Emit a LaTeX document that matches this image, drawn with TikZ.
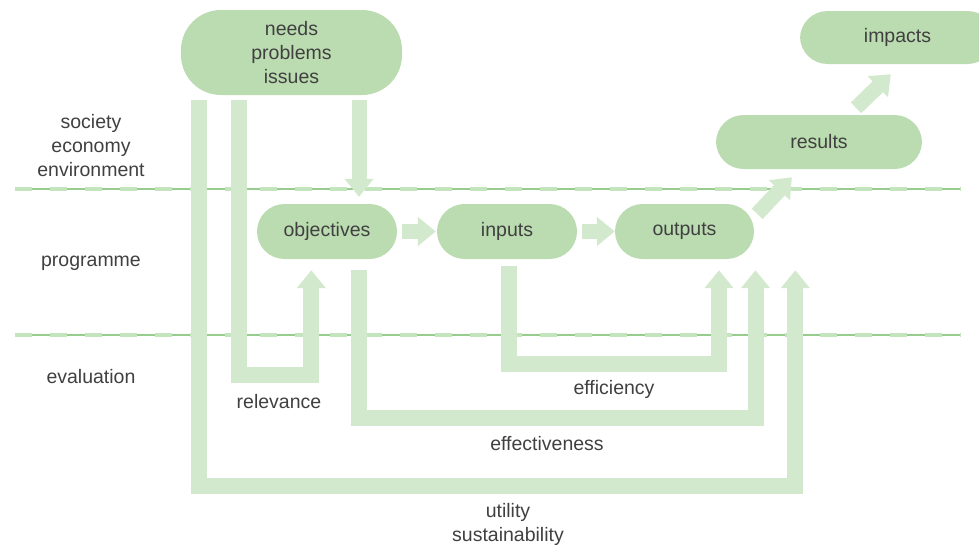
\documentclass[tikz,border=0pt]{standalone}
\usepackage{fontspec}
\setmainfont{Liberation Sans}
\usetikzlibrary{arrows.meta,calc}
\definecolor{boxgreen}{RGB}{187,220,176}
\definecolor{pipegreen}{RGB}{211,233,205}
\definecolor{linegreen}{RGB}{150,205,140}
\definecolor{dashgreen}{RGB}{195,228,188}
\definecolor{txtgray}{RGB}{64,64,64}

\begin{document}
\begin{tikzpicture}[x=1pt, y=-1pt,
  every node/.style={font=\fontsize{19.5}{24}\selectfont, text=txtgray},
  box/.style={fill=boxgreen, rounded corners=27.5pt, minimum height=55pt, inner sep=0pt},
  fat/.style={draw=pipegreen, line width=15pt, -{Triangle[width=28pt,length=18pt]}},
  pipe/.style={draw=pipegreen, line width=16pt, -{Triangle[width=28pt,length=18pt]}},
  sepline/.style={draw=linegreen, line width=1.2pt},
  sepdash/.style={draw=dashgreen, line width=3.5pt, dash pattern=on 17pt off 18pt}]
\useasboundingbox (0,0) rectangle (979,546);

\draw[sepline] (15,189) -- (961,189);
\draw[sepdash] (15,189) -- (961,189);
\draw[sepline] (15,335) -- (961,335);
\draw[sepdash] (15,335) -- (961,335);

\node[box, minimum width=221pt, minimum height=85pt, rounded corners=40pt, align=center] (needs) at (291.5,52.5) {needs\\problems\\issues};
\node[box, minimum width=195pt, minimum height=53pt] (impacts) at (897.5,37.5) {impacts};
\node[box, minimum width=206pt, minimum height=54pt] (results) at (819,142) {results};
\node[box, minimum width=140pt] (objectives) at (327,231.5) {objectives};
\node[box, minimum width=140pt] (inputs) at (507,231.5) {inputs};
\node[box, minimum width=139pt] (outputs) at (684.5,231.5) {outputs};

\node[align=center] (society) at (91,146) {society\\economy\\environment};
\node (programme) at (91,263) {programme};
\node (evaluation) at (91,377) {evaluation};
\node (relevance) at (279,402) {relevance};
\node (efficiency) at (614,389) {efficiency};
\node (effectiveness) at (547,444) {effectiveness};
\node[align=center] (utility) at (508,524) {utility\\sustainability};

\draw[fat, shorten <=5pt, shorten >=1pt] (objectives.east) -- (inputs.west);
\draw[fat, shorten <=5pt] (inputs.east) -- (outputs.west);
\draw[fat] ($(outputs.north east)+(3,10)$) -- ($(results.south west)+(76,8)$);
\draw[fat] ($(results.north)+(37,-7)$) -- ($(impacts.south west)+(91,10)$);
\draw[fat] ($(needs.south)+(67.5,5)$) -- ($(objectives.north)+(32,-7)$);

\draw[pipe] ($(needs.south west)+(18.5,5)$) -- ++(0,385.5) -- ++(596,0) -- ++(0,-215.5);
\draw[pipe] ($(needs.south west)+(58.5,5)$) -- ++(0,275) -- ++(72,0) -- ++(0,-105);
\draw[pipe] ($(objectives.south)+(31.5,11)$) -- ++(0,148) -- ++(397,0) -- ++(0,-148);
\draw[pipe] ($(inputs.south)+(1.5,7)$) -- ++(0,98) -- ++(210.5,0) -- ++(0,-94);

\end{tikzpicture}
\end{document}
